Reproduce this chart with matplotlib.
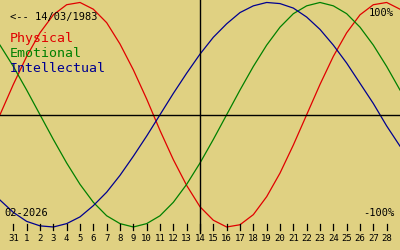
"""
biorhythm chart, Feb 2026, born 14/03/1983
"""
import matplotlib
matplotlib.use("Agg")
import matplotlib.pyplot as plt
import matplotlib.transforms as mtransforms

# values, one per day from 30 Jan to 1 Mar (index -1 .. 29)
physical = [0.0, 0.27, 0.52, 0.73, 0.89, 0.98, 1.0, 0.94, 0.82, 0.63, 0.40,
            0.14, -0.14, -0.40, -0.63, -0.82, -0.94, -1.0, -0.98, -0.89, -0.73,
            -0.52, -0.27, 0.0, 0.27, 0.52, 0.73, 0.89, 0.98, 1.0, 0.94]
emotional = [0.62, 0.43, 0.22, 0.0, -0.22, -0.43, -0.62, -0.78, -0.90, -0.97,
             -1.0, -0.97, -0.90, -0.78, -0.62, -0.43, -0.22, 0.0, 0.22, 0.43,
             0.62, 0.78, 0.90, 0.97, 1.0, 0.97, 0.90, 0.78, 0.62, 0.43, 0.22]
intellectual = [-0.76, -0.87, -0.95, -0.99, -1.0, -0.97, -0.91, -0.81, -0.69,
                -0.54, -0.37, -0.19, 0.0, 0.19, 0.37, 0.54, 0.69, 0.81, 0.91,
                0.97, 1.0, 0.99, 0.95, 0.87, 0.76, 0.62, 0.46, 0.28, 0.10,
                -0.10, -0.28]
day_labels = ["31"] + [str(d) for d in range(1, 29)]
today = "14"
birth = "<-- 14/03/1983"
month = "02-2026"

BG = "#e0d182"
RED = "#e00000"
GREEN = "#008000"
BLUE = "#000090"
MONO = "DejaVu Sans Mono"

fig = plt.figure(figsize=(4, 2.5), dpi=100, facecolor=BG)
ax = fig.add_axes([0, 0, 1, 1])
ax.set_facecolor(BG)
ax.set_xlim(-1, 29)
ax.set_ylim(-1.205, 1.022)
ax.axis("off")

xs = list(range(-1, len(physical) - 1))
ax.plot(xs, physical, color=RED, lw=0.9)
ax.plot(xs, emotional, color=GREEN, lw=0.9)
ax.plot(xs, intellectual, color=BLUE, lw=0.9)

ax.axhline(0, color="black", lw=1)
trans = mtransforms.blended_transform_factory(ax.transData, ax.transAxes)
t_idx = day_labels.index(today)
ax.plot([t_idx, t_idx], [0.068, 1.0], color="black", lw=1, transform=trans)

for i, lab in enumerate(day_labels):
    ax.plot([i, i], [0.08, 0.104], color="black", lw=0.9, transform=trans)
    ax.text(i, 0.036, lab, transform=trans, ha="center", va="baseline",
            family=MONO, fontsize=6.5, color="black")

fig.text(0.025, 0.92, birth, family=MONO, fontsize=7.5, color="black")
fig.text(0.025, 0.832, "Physical", family=MONO, fontsize=9.5, color=RED)
fig.text(0.025, 0.772, "Emotional", family=MONO, fontsize=9.5, color=GREEN)
fig.text(0.025, 0.712, "Intellectual", family=MONO, fontsize=9.5, color=BLUE)
fig.text(0.985, 0.936, "100%", family=MONO, fontsize=7.5, ha="right")
fig.text(0.985, 0.137, "-100%", family=MONO, fontsize=7.5, ha="right")
fig.text(0.012, 0.136, month, family=MONO, fontsize=7.5)

fig.savefig("out.png", dpi=100, facecolor=BG)
plt.close(fig)
